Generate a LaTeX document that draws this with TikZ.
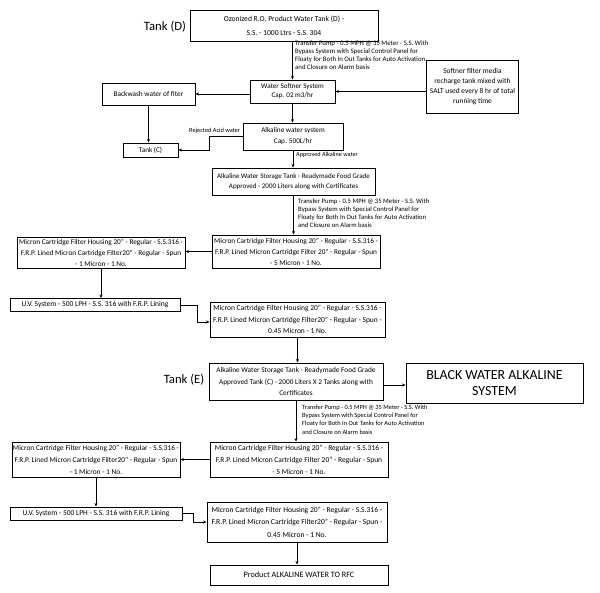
\documentclass[tikz,border=0pt]{standalone}
\usepackage{fontspec}
\setmainfont{Carlito}
\usetikzlibrary{arrows.meta}
\newcommand{\fsz}[2]{\fontsize{#1}{#2}\selectfont}

\begin{document}
\begin{tikzpicture}[x=1pt,y=-1pt,>={Stealth[length=3.5pt,width=3pt]},
    box/.style={draw,line width=0.9pt,align=center,inner sep=0pt},
    note/.style={align=left,inner sep=0pt,anchor=north west,font=\fsz{6.9}{8}},
    flow/.style={->,line width=0.6pt}]
    \useasboundingbox (0,0) rectangle (600,593);

    % tanks and systems
    \node [font=\fsz{12.7}{14}] at (165,27) {Tank (D)};
    \node [box,minimum width=188,minimum height=31,font=\fsz{7.6}{14}] (tankD) at (284,25.5)
        {Ozonized R.O. Product Water Tank (D) -\\S.S. - 1000 Ltrs - S.S. 304};
    \node [box,minimum width=85,minimum height=23,font=\fsz{7.1}{9}] (soft) at (292.5,91.5)
        {Water Softner System\\Cap. 02 m3/hr};
    \node [box,minimum width=92,minimum height=53,font=\fsz{7.4}{10}] (media) at (472.5,86.5)
        {Softner filter media\\recharge tank mixed with\\SALT used every 8 hr of total\\running time};
    \node [box,minimum width=93,minimum height=22,font=\fsz{7.3}{9}] (backwash) at (148.5,94)
        {Backwash water of fiter};
    \node [box,minimum width=55,minimum height=14,font=\fsz{7.2}{9}] (tankC) at (150.5,150)
        {Tank (C)};
    \node [box,minimum width=100,minimum height=27,font=\fsz{7.2}{11}] (alk) at (293,136.5)
        {Alkaline water system\\Cap. 500L/hr};
    \node [box,minimum width=163,minimum height=27,font=\fsz{7}{10}] (store1) at (293.5,181.5)
        {Alkaline Water Storage Tank - Readymade Food Grade\\Approved - 2000 Liters along with Certificates};

    % first filter line
    \node [box,minimum width=168,minimum height=33,font=\fsz{7.3}{11}] (cartA) at (296,251.5)
        {Micron Cartridge Filter Housing 20" - Regular - S.S.316 -\\F.R.P. Lined Micron Cartridge Filter 20" - Regular - Spun\\- 5 Micron - 1 No.};
    \node [box,minimum width=168,minimum height=31,font=\fsz{7.3}{11}] (cartB) at (101,252.5)
        {Micron Cartridge Filter Housing 20" - Regular - S.S.316 -\\F.R.P. Lined Micron Cartridge Filter20" - Regular - Spun\\- 1 Micron - 1 No.};
    \node [box,minimum width=170,minimum height=13,font=\fsz{7.5}{9}] (uv1) at (95,305)
        {U.V. System - 500 LPH - S.S. 316 with F.R.P. Lining};
    \node [box,minimum width=175,minimum height=35,font=\fsz{7.5}{11.5}] (cartC) at (297.5,319.5)
        {Micron Cartridge Filter Housing 20" - Regular - S.S.316 -\\F.R.P. Lined Micron Cartridge Filter20" - Regular - Spun -\\0.45 Micron - 1 No.};

    % second tank
    \node [font=\fsz{12.7}{14}] at (184,380) {Tank (E)};
    \node [box,minimum width=174,minimum height=37,font=\fsz{7.3}{11.5}] (store2) at (296,381.5)
        {Alkaline Water Storage Tank - Readymade Food Grade\\Approved Tank (C) - 2000 Liters X 2 Tanks along with\\Certificates};
    \node [box,minimum width=177,minimum height=40,font=\fsz{13.9}{16}] (black) at (494.5,383)
        {BLACK WATER ALKALINE\\SYSTEM};

    % second filter line
    \node [box,minimum width=178,minimum height=35,font=\fsz{7.5}{12}] (cartF) at (299,459.5)
        {Micron Cartridge Filter Housing 20" - Regular - S.S.316 -\\F.R.P. Lined Micron Cartridge Filter 20" - Regular - Spun\\- 5 Micron - 1 No.};
    \node [box,minimum width=168,minimum height=35,font=\fsz{7.4}{12}] (cartG) at (96,459.5)
        {Micron Cartridge Filter Housing 20" - Regular - S.S.316 -\\F.R.P. Lined Micron Cartridge Filter20" - Regular - Spun\\- 1 Micron - 1 No.};
    \node [box,minimum width=172,minimum height=13,font=\fsz{7.5}{9}] (uv2) at (96,513.5)
        {U.V. System - 500 LPH - S.S. 316 with F.R.P. Lining};
    \node [box,minimum width=180,minimum height=40,font=\fsz{7.6}{12.5}] (cartH) at (297,522)
        {Micron Cartridge Filter Housing 20" - Regular - S.S.316 -\\F.R.P. Lined Micron Cartridge Filter20" - Regular - Spun -\\0.45 Micron - 1 No.};
    \node [box,minimum width=178,minimum height=20,font=\fsz{8.2}{9}] (product) at (299,575)
        {Product ALKALINE WATER TO RFC};

    % notes
    \node [note,font=\fsz{6.8}{8}] at (295,40.5) {Transfer Pump - 0.5 MPH @ 35 Meter - S.S. With\\Bypass System with Special Control Panel for\\Floaty for Both In Out Tanks for Auto Activation\\and Closure on Alarm basis};
    \node [note,font=\fsz{6.7}{8}] at (298,198.5) {Transfer Pump - 0.5 MPH @ 35 Meter - S.S. With\\Bypass System with Special Control Panel for\\Floaty for Both In Out Tanks for Auto Activation\\and Closure on Alarm basis};
    \node [note,font=\fsz{6.4}{8.3}] at (302,404.5) {Transfer Pump - 0.5 MPH @ 35 Meter - S.S. With\\Bypass System with Special Control Panel for\\Floaty for Both In Out Tanks for Auto Activation\\and Closure on Alarm basis};
    \node [note,anchor=west,font=\fsz{6.2}{8}] at (296,155) {Approved Alkaline water};
    \node [note,anchor=west,font=\fsz{6.3}{8}] at (189,131) {Rejected Acid water};

    % connectors
    \draw [flow] (soft.north |- tankD.south) -- (soft.north);
    \draw [flow] (soft.west |- backwash.east) -- (backwash.east);
    \draw [flow] (media.west |- soft.east) -- (soft.east);
    \draw [flow] (soft.south) -- (soft.south |- alk.north);
    \draw [flow] (backwash.south) -- (backwash.south |- tankC.north);
    \draw [flow] (alk.west) -- ++(-33,0) |- (tankC.east);
    \draw [flow] (alk.south) -- (alk.south |- store1.north);
    \draw [flow] (store1.south) -- (store1.south |- cartA.north);
    \draw [flow] (cartA.west) -- (cartA.west -| cartB.east);
    \draw [flow] (cartB.south) -- (cartB.south |- uv1.north);
    \draw [flow] (uv1.east) -- ++(17,0) |- ([yshift=-2.5]cartC.west);
    \draw [flow] (cartC.south) -- (cartC.south |- store2.north);
    \draw [flow] ([yshift=-3.5]store2.east) -- ([yshift=-3.5]store2.east -| black.west);
    \draw [flow] (store2.south) -- (store2.south |- cartF.north);
    \draw [flow] (cartF.west) -- (cartF.west -| cartG.east);
    \draw [flow] (cartG.south) -- (cartG.south |- uv2.north);
    \draw [flow] (uv2.east) -- ++(11,0) |- (cartH.west);
    \draw [flow] (cartH.south) -- (cartH.south |- product.north);

\end{tikzpicture}
\end{document}
